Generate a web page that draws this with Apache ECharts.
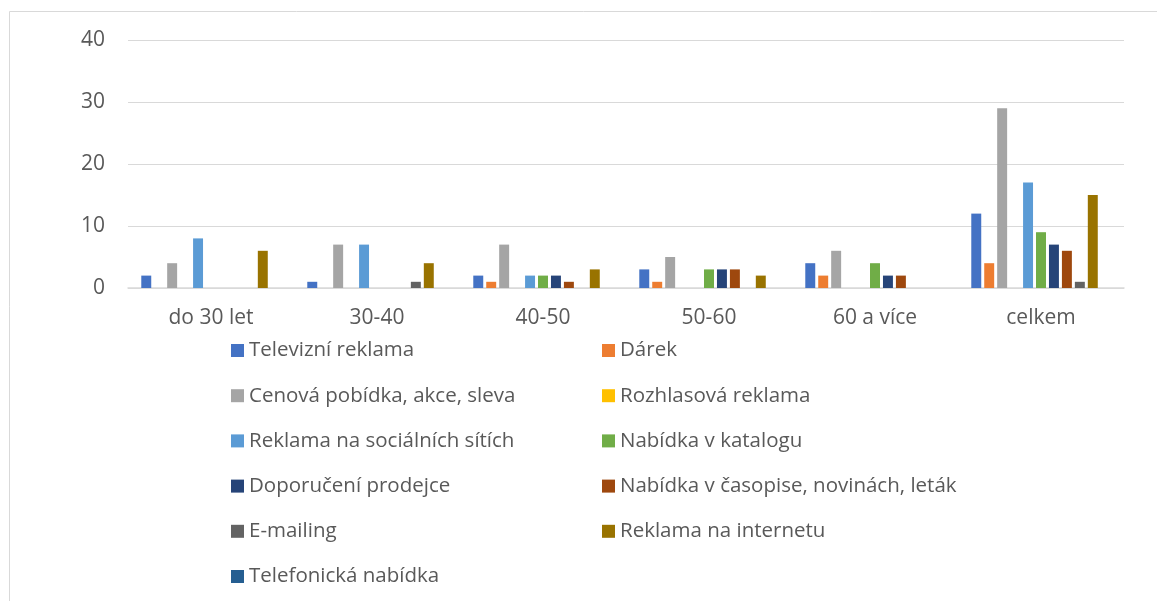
<!DOCTYPE html>
<html>
<head>
<meta charset="utf-8">
<script src="https://cdn.jsdelivr.net/npm/echarts@6/dist/echarts.min.js"></script>
<style>
  html, body { margin: 0; padding: 0; background: #fff; }
  #chart { width: 1157px; height: 601px; }
</style>
</head>
<body>
<div id="chart"></div>
<script>
  const categories = ["do 30 let", "30-40", "40-50", "50-60", "60 a více", "celkem"]
  const seriesNames = [
    "Televizní reklama",
    "Dárek",
    "Cenová pobídka, akce, sleva",
    "Rozhlasová reklama",
    "Reklama na sociálních sítích",
    "Nabídka v katalogu",
    "Doporučení prodejce",
    "Nabídka v časopise, novinách, leták",
    "E-mailing",
    "Reklama na internetu",
    "Telefonická nabídka",
  ]
  // hodnoty po kategoriích
  const televizni = [2, 1, 2, 3, 4, 12]
  const darek = [0, 0, 1, 1, 2, 4]
  const cenova = [4, 7, 7, 5, 6, 29]
  const rozhlas = [0, 0, 0, 0, 0, 0]
  const socialni = [8, 7, 2, 0, 0, 17]
  const katalog = [0, 0, 2, 3, 4, 9]
  const doporuceni = [0, 0, 2, 3, 2, 7]
  const casopis = [0, 0, 1, 3, 2, 6]
  const emailing = [0, 1, 0, 0, 0, 1]
  const internet = [6, 4, 3, 2, 0, 15]
  const telefon = [0, 0, 0, 0, 0, 0]
  const yTicks = [0, 10, 20, 30, 40]

  const values = [televizni, darek, cenova, rozhlas, socialni, katalog, doporuceni, casopis, emailing, internet, telefon]
  const colors = ["#4472C4", "#ED7D31", "#A5A5A5", "#FFC000", "#5B9BD5", "#70AD47", "#264478", "#9E480E", "#636363", "#997300", "#255E91"]

  const fontFam = "'Open Sans', 'Noto Sans', sans-serif"
  const legendText = {
    color: "#595959",
    fontSize: 20.5,
    lineHeight: 20,
    fontFamily: fontFam,
  }

  const chart = echarts.init(document.getElementById("chart"))
  chart.setOption({
    animation: false,
    color: colors,
    graphic: [
      {
        type: "rect",
        shape: { x: 9.5, y: 11.5, width: 1200, height: 700 },
        style: { fill: "none", stroke: "#d9d9d9", lineWidth: 1 },
        silent: true,
      },
    ],
    grid: { left: 128, right: 33, top: 40, bottom: 313 },
    legend: [
      {
        orient: "vertical",
        left: 226,
        top: 335,
        itemWidth: 13,
        itemHeight: 13,
        itemGap: 24.2,
        icon: "rect",
        textStyle: legendText,
        data: seriesNames.filter((n, i) => i % 2 === 0),
      },
      {
        orient: "vertical",
        left: 597,
        top: 335,
        itemWidth: 13,
        itemHeight: 13,
        itemGap: 24.2,
        icon: "rect",
        textStyle: legendText,
        data: seriesNames.filter((n, i) => i % 2 === 1),
      },
    ],
    xAxis: {
      type: "category",
      data: categories,
      axisLine: { lineStyle: { color: "#d9d9d9", width: 1.5 } },
      axisTick: { show: false },
      axisLabel: {
        color: "#595959",
        fontSize: 21,
        margin: 20,
        fontFamily: fontFam,
      },
    },
    yAxis: {
      type: "value",
      min: yTicks[0],
      max: yTicks[yTicks.length - 1],
      interval: 10,
      axisLine: { show: false },
      axisTick: { show: false },
      splitLine: { lineStyle: { color: "#d9d9d9", width: 1 } },
      axisLabel: {
        color: "#595959",
        fontSize: 21,
        margin: 23,
        fontFamily: fontFam,
      },
    },
    series: seriesNames.map((name, i) => ({
      name: name,
      type: "bar",
      data: values[i],
      barGap: "30%",
      barCategoryGap: "16%",
      itemStyle: { color: colors[i] },
    })),
  })
</script>
</body>
</html>
